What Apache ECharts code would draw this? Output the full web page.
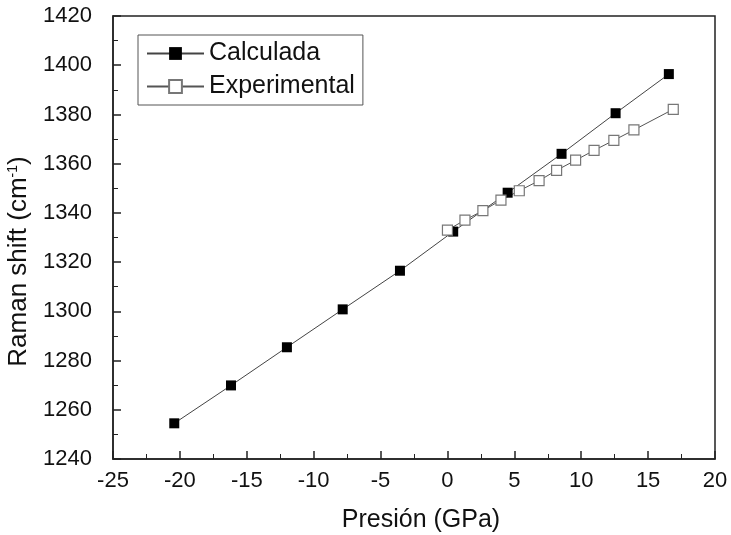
<!DOCTYPE html>
<html><head><meta charset="utf-8">
<script src="https://cdn.jsdelivr.net/npm/echarts@6/dist/echarts.min.js"></script>
<style>html,body{margin:0;padding:0;background:#fff}#c{width:731px;height:535px}</style>
</head><body><div id="c"></div>
<script>
var calcP = [-20.42, -16.18, -12.0, -7.83, -3.55, 0.43, 4.5, 8.53, 12.57, 16.55];
var calcR = [1254.5, 1269.9, 1285.4, 1300.8, 1316.5, 1332.4, 1348.2, 1364.0, 1380.5, 1396.4];
var expP = [0.0, 1.31, 2.65, 4.0, 5.37, 6.85, 8.16, 9.58, 10.96, 12.44, 13.94, 16.88];
var expR = [1333.0, 1337.1, 1340.9, 1345.2, 1349.0, 1353.1, 1357.3, 1361.4, 1365.4, 1369.5, 1373.7, 1382.1];
var seriesNames = ['Calculada', 'Experimental'];
var xTitle = 'Presión (GPa)';

function pairs(a, b) { return a.map(function (v, i) { return [v, b[i]]; }); }
var FONT = '"Liberation Sans", Arial, sans-serif';
var chart = echarts.init(document.getElementById('c'));
chart.setOption({
  animation: false,
  backgroundColor: '#fff',
  textStyle: { fontFamily: FONT },
  grid: { left: 113, right: 16, top: 16, bottom: 76, containLabel: false, outerBoundsMode: 'none',
    show: true, borderColor: '#222', borderWidth: 1.5, backgroundColor: 'transparent' },
  legend: {
    orient: 'vertical', left: 138, top: 35,
    padding: [6, 8, 6, 8], itemGap: 8,
    itemWidth: 57, itemHeight: 16,
    borderColor: '#555', borderWidth: 1,
    textStyle: { fontSize: 25, color: '#111', fontFamily: FONT },
    data: seriesNames
  },
  xAxis: {
    type: 'value', min: -25, max: 20, interval: 5,
    name: xTitle, nameLocation: 'middle', nameGap: 49,
    nameTextStyle: { fontSize: 25, color: '#111', fontFamily: FONT, padding: [0, 0, 0, 14] },
    axisLine: { onZero: false, lineStyle: { color: '#222', width: 1.5 } },
    axisTick: { inside: true, length: 8, lineStyle: { color: '#222', width: 1.5 } },
    minorTick: { show: true, splitNumber: 2, length: 5, lineStyle: { color: '#222', width: 1 } },
    axisLabel: { fontSize: 22, color: '#111', margin: 11, fontFamily: FONT },
    splitLine: { show: false }
  },
  yAxis: {
    type: 'value', min: 1240, max: 1420, interval: 20,
    name: '{n|Raman shift (cm}{s|-1}{n|)}', nameLocation: 'middle', nameGap: 70, nameRotate: 90,
    nameTextStyle: { fontSize: 26, color: '#111', fontFamily: FONT, padding: [0, 48, 0, 0],
      rich: { n: { fontSize: 26, fontFamily: FONT, color: '#111' }, s: { fontSize: 14, fontFamily: FONT, color: '#111', verticalAlign: 'top', padding: [0, 0, 12, 0] } } },
    axisLine: { onZero: false, lineStyle: { color: '#222', width: 1.5 } },
    axisTick: { inside: true, length: 8, lineStyle: { color: '#222', width: 1.5 } },
    minorTick: { show: true, splitNumber: 2, length: 5, lineStyle: { color: '#222', width: 1 } },
    axisLabel: { fontSize: 22, color: '#111', margin: 21, fontFamily: FONT, formatter: function (v) { return String(v); } },
    splitLine: { show: false }
  },
  series: [
    {
      name: seriesNames[0], type: 'line', data: pairs(calcP, calcR),
      symbol: 'rect', symbolSize: 10,
      itemStyle: { color: '#000', borderColor: '#000', borderWidth: 0 },
      lineStyle: { color: '#444', width: 1 }
    },
    {
      name: seriesNames[1], type: 'line', data: pairs(expP, expR),
      symbol: 'rect', symbolSize: 10,
      itemStyle: { color: '#fff', borderColor: '#777', borderWidth: 1.2 },
      lineStyle: { color: '#555', width: 1 }
    }
  ]
});
</script></body></html>
